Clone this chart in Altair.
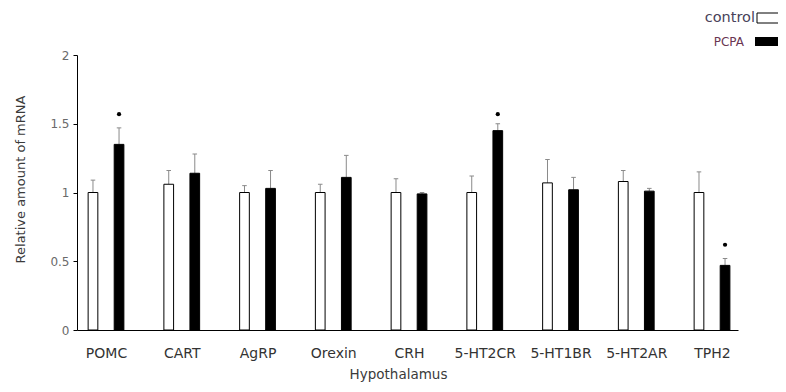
import json
import altair as alt
import pandas as pd

genes = ["POMC", "CART", "AgRP", "Orexin", "CRH", "5-HT2CR", "5-HT1BR", "5-HT2AR", "TPH2"]
control = [1.00, 1.06, 1.00, 1.00, 1.00, 1.00, 1.07, 1.08, 1.00]
control_err = [0.09, 0.10, 0.05, 0.06, 0.10, 0.12, 0.17, 0.08, 0.15]
pcpa = [1.35, 1.14, 1.03, 1.11, 0.99, 1.45, 1.02, 1.01, 0.47]
pcpa_err = [0.12, 0.14, 0.13, 0.16, 0.01, 0.05, 0.09, 0.02, 0.05]
star_y = [1.57, None, None, None, None, 1.57, None, None, 0.62]
y_ticks = [0, 0.5, 1, 1.5, 2]

FONT = "DejaVu Sans"
OFF = 0.172   # group offset (x units)
HW = 0.064    # half bar width
CAP = 0.03    # half cap width

rows = []
for i, g in enumerate(genes):
    for grp, vals, errs, sign in (("control", control, control_err, -1), ("PCPA", pcpa, pcpa_err, 1)):
        xc = i + sign * OFF
        rows.append({"gene": g, "group": grp, "xc": xc, "xl": xc - HW, "xr": xc + HW,
                     "cl": xc - CAP, "cr": xc + CAP,
                     "value": vals[i], "top": vals[i] + errs[i],
                     "star": star_y[i] if grp == "PCPA" else None})
df = pd.DataFrame(rows)

xscale = alt.Scale(domain=[-0.383, 8.343], nice=False, zero=False)
yscale = alt.Scale(domain=[0, 2], nice=False)
label_expr = json.dumps(genes) + "[datum.value]"

xaxis = alt.Axis(values=list(range(len(genes))), labelExpr=label_expr, grid=False, ticks=False,
                 domainColor="#000", labelColor="#333", labelFont=FONT, labelFontSize=14,
                 labelBaseline="alphabetic", labelPadding=27,
                 title="Hypothalamus", titleFont=FONT, titleFontSize=13.5,
                 titleFontWeight="normal", titleColor="#3a3a3a",
                 titleX=321, titleY=48, titleAlign="center", titleBaseline="alphabetic")
yaxis = alt.Axis(values=y_ticks, labelExpr="datum.value + ''", grid=False, domainColor="#000",
                 tickColor="#000", tickSize=4, labelColor="#6a6a6a", labelFont=FONT, labelFontSize=12,
                 labelPadding=4, title="Relative amount of mRNA", titleFont=FONT, titleFontSize=13,
                 titleFontWeight="normal", titleColor="#3a3a3a",
                 titleX=-53, titleY=124, titleAngle=270, titleAlign="center", titleBaseline="alphabetic")

base = alt.Chart(df)

errs = base.mark_rule(color="#8a8a8a", strokeWidth=1).encode(
    x=alt.X("xc:Q", scale=xscale, axis=xaxis),
    y=alt.Y("value:Q", scale=yscale, axis=yaxis),
    y2="top:Q",
)
caps = base.mark_rule(color="#8a8a8a", strokeWidth=1).encode(
    x=alt.X("cl:Q", scale=xscale), x2="cr:Q", y=alt.Y("top:Q", scale=yscale)
)
bars = base.mark_rect(stroke="#000", strokeWidth=1).encode(
    x=alt.X("xl:Q", scale=xscale), x2="xr:Q",
    y=alt.Y("value:Q", scale=yscale), y2=alt.datum(0),
    fill=alt.Fill("group:N", scale=alt.Scale(domain=["control", "PCPA"], range=["#ffffff", "#000000"]), legend=None),
)
stars = base.transform_filter("datum.star != null").mark_point(
    filled=True, shape="circle", size=18, color="#000", opacity=1
).encode(x=alt.X("xc:Q", scale=xscale), y=alt.Y("star:Q", scale=yscale))

one = alt.Data(values=[{}])
leg_ctrl_txt = alt.Chart(one).mark_text(text="control", align="right", baseline="middle", font=FONT,
                                        fontSize=14.5, color="#48425a").encode(x=alt.value(678), y=alt.value(-37))
leg_pcpa_txt = alt.Chart(one).mark_text(text="PCPA", align="right", baseline="middle", font=FONT,
                                        fontSize=12, color="#6a3552").encode(x=alt.value(667), y=alt.value(-13))
leg_ctrl_box = alt.Chart(one).mark_rect(fill="#fff", stroke="#000", strokeWidth=1).encode(
    x=alt.value(680), x2=alt.value(720), y=alt.value(-42), y2=alt.value(-32))
leg_pcpa_box = alt.Chart(one).mark_rect(fill="#000").encode(
    x=alt.value(678), x2=alt.value(720), y=alt.value(-18), y2=alt.value(-9))

chart = alt.layer(errs, caps, bars, stars, leg_ctrl_txt, leg_pcpa_txt, leg_ctrl_box, leg_pcpa_box).properties(
    width=661, height=275,
    background="#ffffff",
    autosize=alt.AutoSizeParams(type="none"),
    padding={"left": 69, "top": 47, "right": 40, "bottom": 52},
).configure_view(strokeWidth=0, stroke="transparent")

chart.save("out.html", embed_options={"renderer": "svg", "actions": False})
